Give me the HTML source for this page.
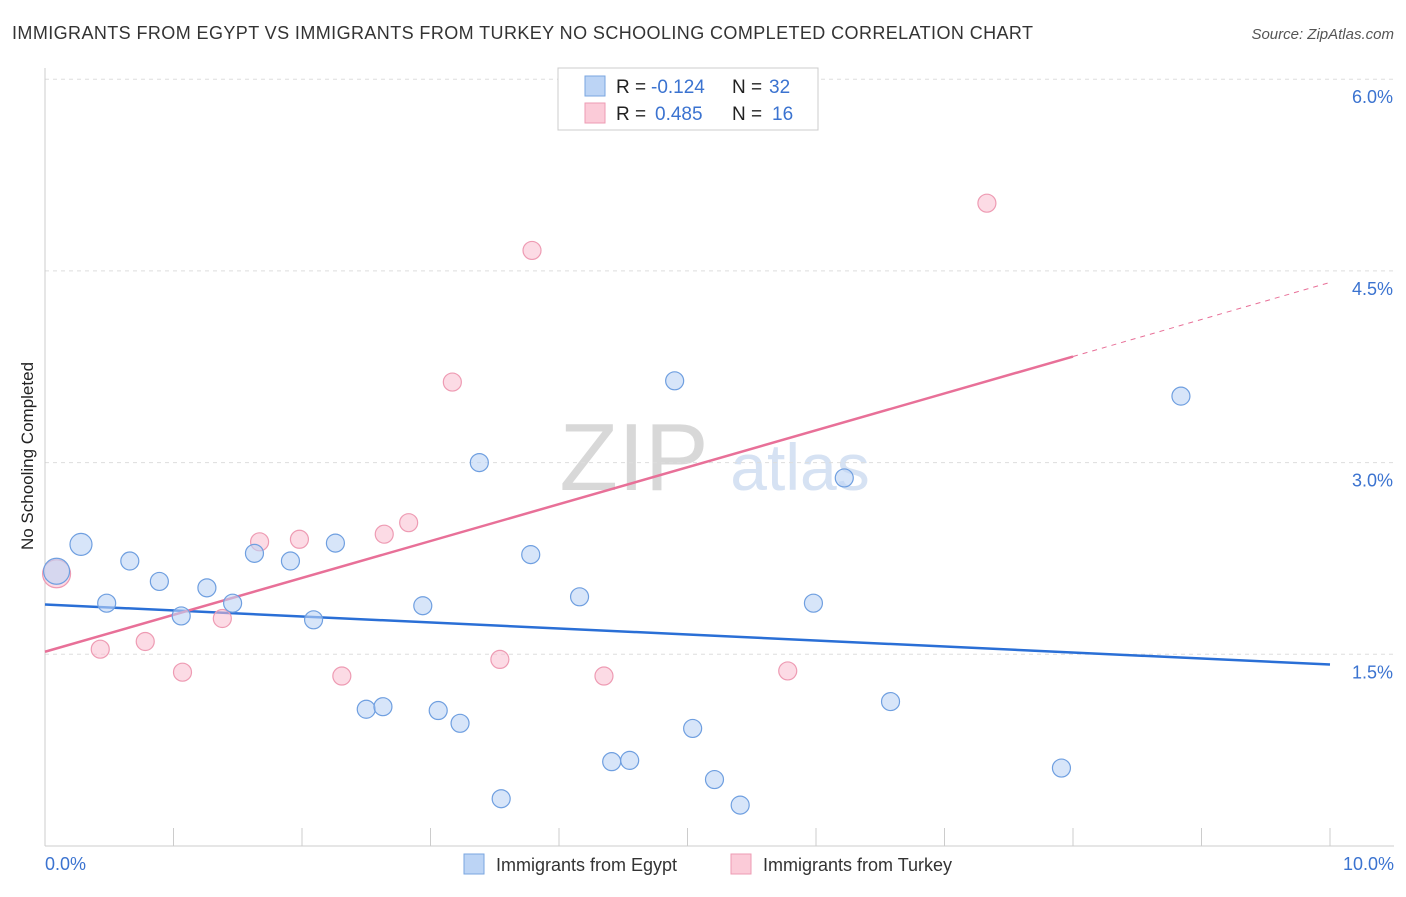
<!DOCTYPE html>
<html><head><meta charset="utf-8"><style>
body{margin:0;background:#fff;font-family:"Liberation Sans",sans-serif}
svg text{font-family:"Liberation Sans",sans-serif}
</style></head><body>
<svg width="1406" height="892">
<text x="12" y="39" font-size="18" fill="#333" textLength="1021">IMMIGRANTS FROM EGYPT VS IMMIGRANTS FROM TURKEY NO SCHOOLING COMPLETED CORRELATION CHART</text>
<text x="1394" y="39" font-size="15" fill="#555" text-anchor="end" font-style="italic">Source: ZipAtlas.com</text>
<text x="634" y="490" font-size="96" fill="#d8d8d8" font-family="Liberation Serif" text-anchor="middle">ZIP</text>
<text x="800" y="490" font-size="66" fill="#d6e2f3" text-anchor="middle">atlas</text>
<g id="grid"></g>
<line x1="45" y1="68" x2="45" y2="846" stroke="#ccc"/>
<line x1="45" y1="846" x2="1394" y2="846" stroke="#ccc"/>
<text x="33" y="456" font-size="17" fill="#222" transform="rotate(-90 33 456)" text-anchor="middle">No Schooling Completed</text>
<text x="45" y="870" font-size="18" fill="#3b73d0">0.0%</text>
<text x="1394" y="870" font-size="18" fill="#3b73d0" text-anchor="end">10.0%</text>
<g id="lines"></g>
<g id="pts"></g>
<rect x="558" y="68" width="260" height="62" fill="#fff" stroke="#ccc"/>
<rect x="585" y="76" width="20" height="20" fill="#bcd4f5" stroke="#7aa6e0"/>
<rect x="585" y="103" width="20" height="20" fill="#fbcbd8" stroke="#ee9bb3"/>
<g font-size="19">
<text x="616" y="93" fill="#222">R =</text><text x="651" y="93" fill="#3b73d0">-0.124</text>
<text x="732" y="93" fill="#222">N =</text><text x="769" y="93" fill="#3b73d0">32</text></g>
<g font-size="19">
<text x="616" y="120" fill="#222">R =</text><text x="655" y="120" fill="#3b73d0">0.485</text>
<text x="732" y="120" fill="#222">N =</text><text x="772" y="120" fill="#3b73d0">16</text></g>
<rect x="464" y="854" width="20" height="20" fill="#bcd4f5" stroke="#7aa6e0"/>
<text x="496" y="871" font-size="18" fill="#333">Immigrants from Egypt</text>
<rect x="731" y="854" width="20" height="20" fill="#fbcbd8" stroke="#ee9bb3"/>
<text x="763" y="871" font-size="18" fill="#333">Immigrants from Turkey</text>
</svg>
<script>
const egyptX=[0.09,0.28,0.48,0.66,0.89,1.06,1.26,1.46,1.63,1.91,2.09,2.26,2.50,2.63,2.94,3.06,3.23,3.38,3.55,3.78,4.16,4.41,4.55,4.90,5.04,5.21,5.41,5.98,6.22,6.58,7.91,8.84];
const egyptY=[2.15,2.36,1.90,2.23,2.07,1.80,2.02,1.90,2.29,2.23,1.77,2.37,1.07,1.09,1.88,1.06,0.96,3.00,0.37,2.28,1.95,0.66,0.67,3.64,0.92,0.52,0.32,1.90,2.88,1.13,0.61,3.52];
const egyptR=[13,11,9,9,9,9,9,9,9,9,9,9,9,9,9,9,9,9,9,9,9,9,9,9,9,9,9,9,9,9,9,9];
const turkeyX=[0.09,0.43,0.78,1.07,1.38,1.67,1.98,2.31,2.64,2.83,3.17,3.54,3.79,4.35,5.78,7.33];
const turkeyY=[2.13,1.54,1.60,1.36,1.78,2.38,2.40,1.33,2.44,2.53,3.63,1.46,4.66,1.33,1.37,5.03];
const turkeyR=[14,9,9,9,9,9,9,9,9,9,9,9,9,9,9,9];
const yTicks=[1.5,3.0,4.5,6.0];
const yTickLabels=["1.5%","3.0%","4.5%","6.0%"];
const xTicks=[0,1,2,3,4,5,6,7,8,9,10];
const egyptTrend=[1.89,1.42];
const turkeyTrend=[1.52,3.83,4.41];
const NS="http://www.w3.org/2000/svg";
const sx=v=>45+v*128.5, sy=v=>846-v*127.8;
function mk(t,a,p){const e=document.createElementNS(NS,t);for(const k in a)e.setAttribute(k,a[k]);document.getElementById(p).appendChild(e);return e;}
yTicks.forEach((v,i)=>{
 const l=mk('line',{x1:45,x2:1394,y1:sy(v),y2:sy(v),stroke:'#ddd','stroke-dasharray':'4,4'},'grid');
 
 
 const t=mk('text',{x:1393,y:sy(v)+24,'font-size':18,fill:'#3b73d0','text-anchor':'end'},'grid');
 t.textContent=yTickLabels[i];
 
 
});
xTicks.forEach(v=>{
 const l=mk('line',{x1:sx(v),x2:sx(v),y1:828,y2:846,stroke:'#ccc'},'grid');
 
 
});
let l=mk('line',{x1:sx(0),y1:sy(egyptTrend[0]),x2:sx(10),y2:sy(egyptTrend[1]),stroke:'#2a6fd6','stroke-width':2.5},'lines');


l=mk('line',{x1:sx(0),y1:sy(turkeyTrend[0]),x2:sx(8),y2:sy(turkeyTrend[1]),stroke:'#e87098','stroke-width':2.5},'lines');


l=mk('line',{x1:sx(8),y1:sy(turkeyTrend[1]),x2:sx(10),y2:sy(turkeyTrend[2]),stroke:'#e87098','stroke-width':1,'stroke-dasharray':'5,5'},'lines');


turkeyX.forEach((v,i)=>{
 const c=mk('circle',{cx:sx(v),cy:sy(turkeyY[i]),r:turkeyR[i],fill:'rgba(250,190,208,0.55)',stroke:'#ee9bb3','stroke-width':1.2},'pts');
 
 
});
egyptX.forEach((v,i)=>{
 const c=mk('circle',{cx:sx(v),cy:sy(egyptY[i]),r:egyptR[i],fill:'rgba(188,212,245,0.6)',stroke:'#6f9fe0','stroke-width':1.2},'pts');
 
 
});
</script>
</body></html>
